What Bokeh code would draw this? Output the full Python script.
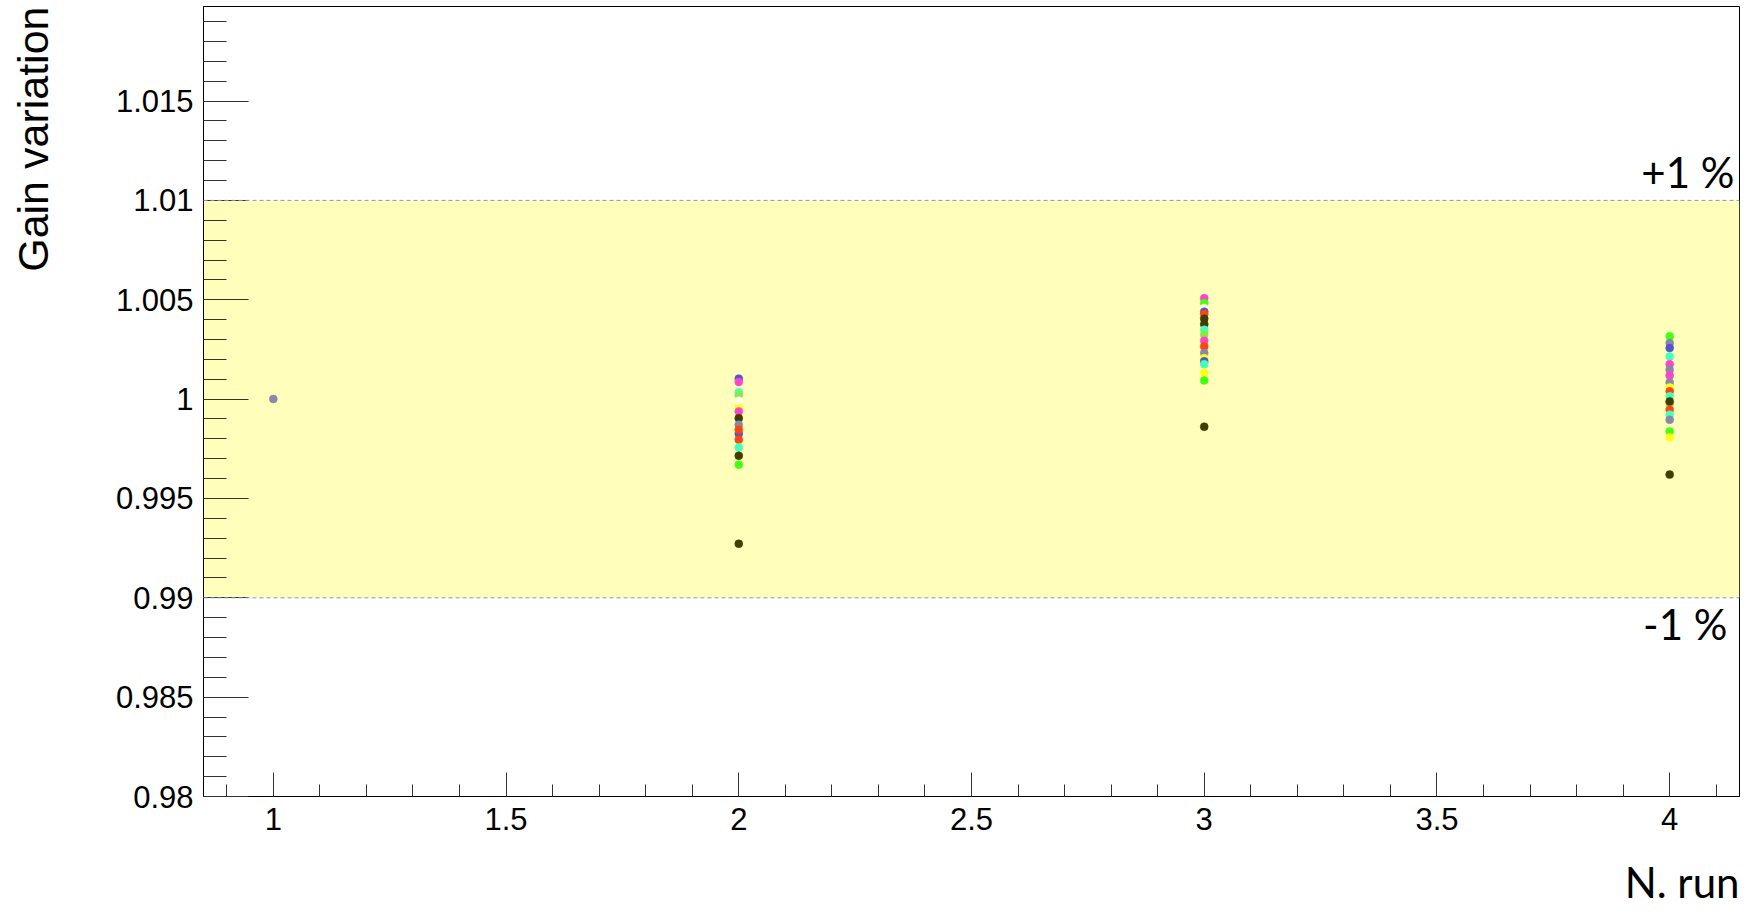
from bokeh.plotting import figure
from bokeh.models import FixedTicker, BoxAnnotation, Span, Label, Title, ColumnDataSource
from bokeh.embed import file_html
from bokeh.resources import INLINE

# marker colours (ROOT-like palette)
PINK = "#ff44cc"
BLUE = "#5055c8"
TEAL = "#44ffbb"
LGREEN = "#88e84a"
OLIVE = "#423c00"
GRAY = "#8888aa"
RED = "#ff4411"
GREEN = "#44ff11"
YELLOW = "#ffff11"
CREAM = "#ffffe0"

# gain of each channel, relative to the first run
run_1_gain = [1.0]
run_1_color = [GRAY]

run_2_gain = [1.00103, 1.00086, 1.00035, 1.00019, 0.99960, 0.99992, 0.99938,
              0.99904, 0.99871, 0.99825, 0.99846, 0.99796, 0.99757, 0.99715,
              0.99670, 0.99272]
run_2_color = [BLUE, PINK, TEAL, LGREEN, YELLOW, CREAM, PINK,
               OLIVE, GRAY, BLUE, RED, RED, TEAL, OLIVE,
               GREEN, OLIVE]

run_3_gain = [1.00508, 1.00483, 1.00458, 1.00440, 1.00428, 1.00405, 1.00377,
              1.00349, 1.00324, 1.00294, 1.00265, 1.00232, 1.00206, 1.00190,
              1.00176, 1.00131, 1.00094, 0.99861]
run_3_color = [PINK, GREEN, CREAM, BLUE, RED, OLIVE, OLIVE,
               TEAL, LGREEN, PINK, RED, GRAY, YELLOW, BLUE,
               TEAL, YELLOW, GREEN, OLIVE]

run_4_gain = [1.00316, 1.00282, 1.00257, 1.00215, 1.00176, 1.00148, 1.00119,
              1.00084, 1.00059, 1.00039, 1.00014, 0.99977, 0.99988, 0.99947,
              0.99921, 0.99896, 0.99837, 0.99807, 0.99620]
run_4_color = [GREEN, GRAY, BLUE, TEAL, PINK, GRAY, PINK,
               GRAY, YELLOW, RED, TEAL, LGREEN, OLIVE, RED,
               TEAL, GRAY, GREEN, YELLOW, OLIVE]

band_low, band_high = 0.99, 1.01

x_major = [1, 1.5, 2, 2.5, 3, 3.5, 4]
x_labels = ["1", "1.5", "2", "2.5", "3", "3.5", "4"]
y_major = [0.98, 0.985, 0.99, 0.995, 1.0, 1.005, 1.01, 1.015]
y_labels = ["0.98", "0.985", "0.99", "0.995", "1", "1.005", "1.01", "1.015"]

# assemble the points
runs, gains, colors = [], [], []
for r, g, c in [(1, run_1_gain, run_1_color), (2, run_2_gain, run_2_color),
                (3, run_3_gain, run_3_color), (4, run_4_gain, run_4_color)]:
    runs += [r] * len(g)
    gains += g
    colors += c
src = ColumnDataSource(dict(run=runs, gain=gains, color=colors))

# canvas geometry
W, H = 1754, 920
FL, FR, FT, FB = 203, 1739, 6, 796
X0, X1 = 0.85, 4.15
Y0 = 0.98
Y1 = Y0 + (FB - FT) / 19870.0


def dx(px):
    return X0 + (px - FL) * (X1 - X0) / (FR - FL)


def dy(py):
    return Y0 + (FB - py) * (Y1 - Y0) / (FB - FT)


p = figure(width=W, height=H, x_range=(X0, X1), y_range=(Y0, Y1),
           output_backend="svg", toolbar_location=None,
           min_border_left=FL, min_border_right=W - FR,
           min_border_top=FT, min_border_bottom=H - FB)
p.grid.visible = False
p.background_fill_color = "white"
p.border_fill_color = "white"
p.outline_line_color = "black"
p.outline_line_width = 1

# +-1 % band
p.add_layout(BoxAnnotation(bottom=band_low, top=band_high, fill_color="#ffffbb",
                           fill_alpha=1.0, line_color=None, level="underlay"))
for lvl in (band_low, band_high):
    p.add_layout(Span(location=lvl, dimension="width", line_color="#7f9cc8",
                      line_width=1, line_dash="4 3"))

p.scatter("run", "gain", source=src, size=8, fill_color="color",
          line_color="color", line_width=0.5)

# axes
tick_font = "Liberation Sans"
xa = p.xaxis[0]
xa.ticker = FixedTicker(ticks=x_major,
                        minor_ticks=[round(0.9 + 0.1 * i, 1) for i in range(33)])
xa.major_label_overrides = dict(zip(x_major, x_labels))
xa.major_tick_in, xa.major_tick_out = 24, 0
xa.minor_tick_in, xa.minor_tick_out = 12, 0
xa.major_label_standoff = 11
# blank axis label only reserves room between tick labels and the title
xa.axis_label = " "
xa.axis_label_text_font_size = "10px"
xa.axis_label_standoff = 3

ya = p.yaxis[0]
ya.ticker = FixedTicker(ticks=y_major,
                        minor_ticks=[round(0.98 + 0.001 * i, 3) for i in range(40)])
ya.major_label_overrides = dict(zip(y_major, y_labels))
ya.major_tick_in, ya.major_tick_out = 45, 0
ya.minor_tick_in, ya.minor_tick_out = 23, 0
ya.major_label_standoff = 10
ya.axis_label = " "
ya.axis_label_text_font_size = "10px"
ya.axis_label_standoff = 37

for ax in (xa, ya):
    ax.axis_line_color = "black"
    ax.major_tick_line_color = "#333333"
    ax.minor_tick_line_color = "#333333"
    ax.major_label_text_font = tick_font
    ax.major_label_text_font_size = "31px"
    ax.major_label_text_color = "black"

# axis titles, right-aligned at the end of each axis
p.add_layout(Title(text="Gain variation", align="right",
                   text_font="Liberation Sans", text_font_size="43px",
                   text_font_style="normal", text_color="black"), "left")
p.add_layout(Title(text="N. run", align="right",
                   text_font="Lato", text_font_size="42px",
                   text_font_style="normal", text_color="black"), "below")

# band labels
p.add_layout(Label(x=dx(1734), y=dy(171), text="+1 %", text_align="right",
                   text_baseline="alphabetic", text_font="Lato",
                   text_font_size="42px", text_color="black"))
p.add_layout(Label(x=dx(1727), y=dy(623), text="-1 %", text_align="right",
                   text_baseline="alphabetic", text_font="Lato",
                   text_font_size="42px", text_color="black"))

open("out.html", "w").write(file_html(p, INLINE))
